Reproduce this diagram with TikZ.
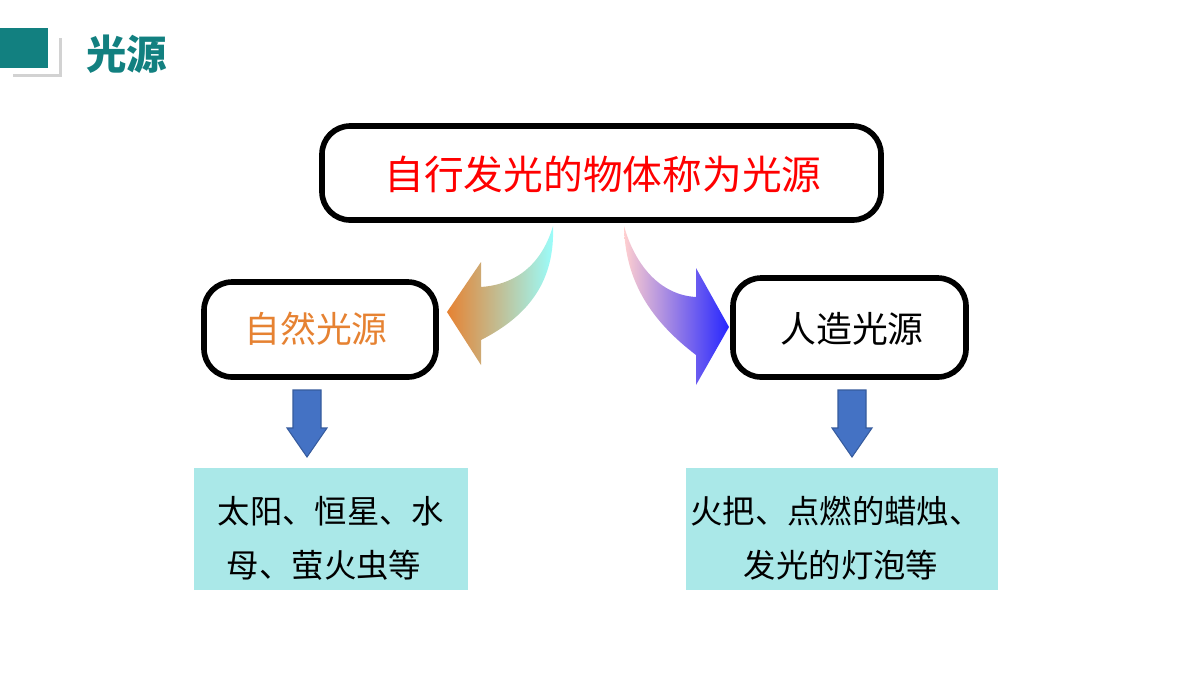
\documentclass[tikz,border=0pt]{standalone}
\usepackage{fontspec}
\newfontfamily\cjk{Noto Sans CJK SC}
\usepackage{xcolor}
\usepackage{tikz}
\definecolor{teal1}{RGB}{18,128,128}
\definecolor{aqua1}{RGB}{170,232,232}
\definecolor{blue1}{RGB}{68,114,196}
\definecolor{orange1}{RGB}{230,130,50}
\tikzset{
	frame/.style={draw=black, line width=1.6pt, rounded corners=8pt, fill=white},
	note/.style={font=\cjk\fontsize{9.2}{12}\selectfont},
	down/.style={fill=blue1, draw=blue1!80!black, line width=0.3pt}
}
\begin{document}
\begin{tikzpicture}[x=0.01cm,y=-0.01cm]
	\useasboundingbox (0,0) rectangle (1200,675);

	% header
	\fill[gray!35] (13,38) rectangle (62,77);
	\fill[white] (10,35) rectangle (59,74);
	\fill[teal1] (0,28) rectangle (48,68);
	\node[text=teal1, font=\cjk\bfseries\fontsize{11.5}{12}\selectfont] (title) at (127,54) {光源};

	% boxes
	\draw[frame] (322,126) rectangle (881,220);
	\node[text=red, font=\cjk\fontsize{11.3}{12}\selectfont] (top) at (603,174) {自行发光的物体称为光源};
	\draw[frame] (204,282) rectangle (436,377);
	\node[text=orange1, font=\cjk\fontsize{10.2}{12}\selectfont] (nat) at (316,329) {自然光源};
	\draw[frame] (733,278) rectangle (966,377);
	\node[font=\cjk\fontsize{10.2}{12}\selectfont] (art) at (852,329) {人造光源};

	% curved arrows
	\shade[left color=orange1, right color=cyan!40] (553,226) .. controls (540,270) and (510,285) .. (481,287)
		-- (481,262) -- (447,312) -- (481,365) -- (481,340) .. controls (530,315) and (555,280) .. cycle;
	\shade[left color=pink!75, right color=blue!85] (624,226) .. controls (635,265) and (660,295) .. (696,297)
		-- (696,268) -- (729,327) -- (696,385) -- (696,355) .. controls (650,320) and (625,280) .. cycle;

	% down arrows
	\foreach \x in {307,852}
		\draw[down] (\x-14,390) -- (\x+14,390) -- (\x+14,428) -- (\x+20,428) -- (\x,457)
			-- (\x-20,428) -- (\x-14,428) -- cycle;

	% details
	\fill[aqua1] (194,468) rectangle (468,590);
	\fill[aqua1] (686,468) rectangle (998,590);
	\node[note] (n1) at (331,511) {太阳、恒星、水};
	\node[note] (n2) at (324,565) {母、萤火虫等};
	\node[note] (a1) at (836,511) {火把、点燃的蜡烛、};
	\node[note] (a2) at (841,565) {发光的灯泡等};
\end{tikzpicture}
\end{document}
